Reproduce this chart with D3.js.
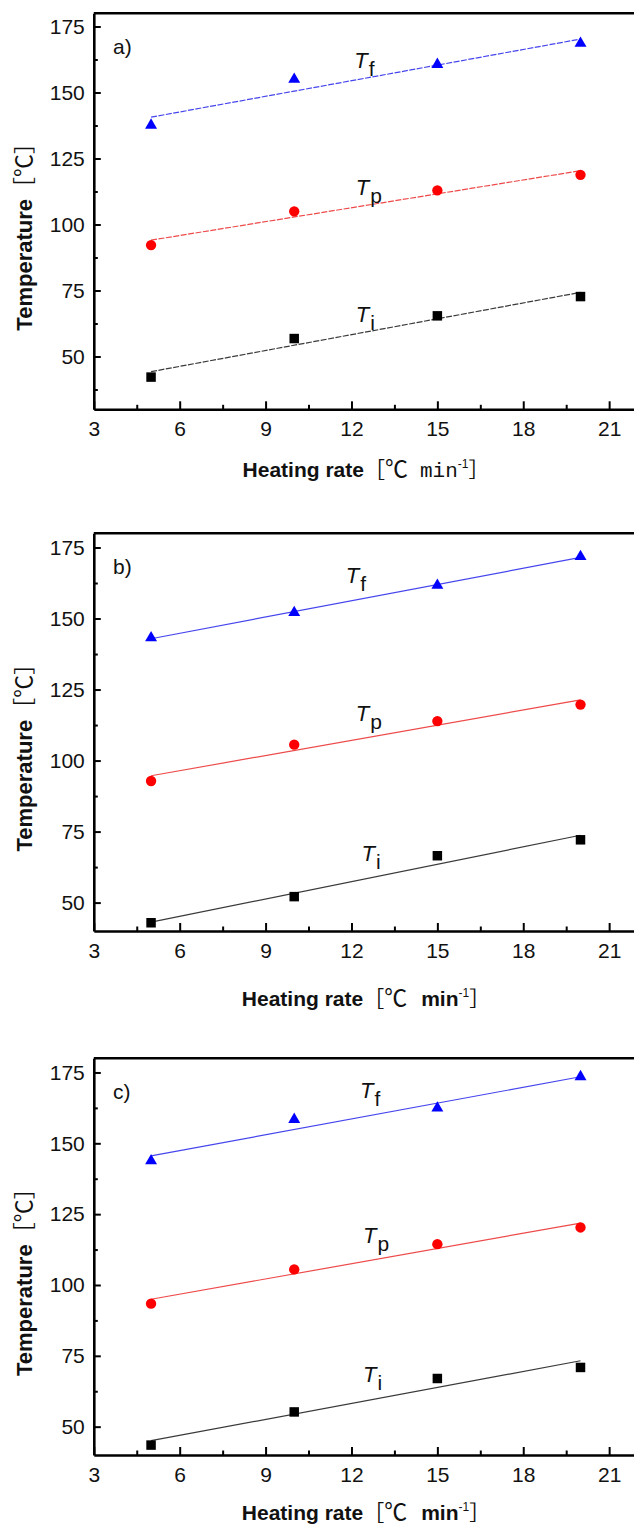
<!DOCTYPE html>
<html>
<head>
<meta charset="utf-8">
<script src="https://cdn.jsdelivr.net/npm/d3@7"></script>
<style>
  body { margin: 0; background: #fff; }
  svg { display: block; }
</style>
</head>
<body>
<div id="container"></div>
<script>
// values
const xValues = [5, 10, 15, 20];
const xTicks = [3, 6, 9, 12, 15, 18, 21];
const yTicks = [50, 75, 100, 125, 150, 175];
const panelLabels = ["a)", "b)", "c)"];
const yMins = [30, 40, 40];
const subNames = ["f", "p", "i"];

const tfA = [137.6, 155.0, 160.6, 168.6];
const tpA = [92.2, 105.0, 112.9, 118.8];
const tiA = [42.2, 56.8, 65.4, 72.7];

const tfB = [143.2, 152.1, 161.7, 171.8];
const tpB = [92.8, 105.6, 113.9, 119.7];
const tiB = [42.9, 52.1, 66.5, 72.1];

const tfC = [143.8, 158.4, 162.4, 173.5];
const tpC = [93.4, 105.5, 114.4, 120.3];
const tiC = [43.5, 55.2, 67.0, 70.9];

// where the T labels start (x in heating-rate units)
const labelXA = [12.1, 12.15, 12.15];
const labelXB = [11.8, 12.15, 12.35];
const labelXC = [12.3, 12.4, 12.4];

const panels = [
  { label: panelLabels[0], yMin: yMins[0], series: [tfA, tpA, tiA], labelX: labelXA },
  { label: panelLabels[1], yMin: yMins[1], series: [tfB, tpB, tiB], labelX: labelXB },
  { label: panelLabels[2], yMin: yMins[2], series: [tfC, tpC, tiC], labelX: labelXC }
];

// layout
const width = 634, height = 1528;
const left = 93.8;
const tops = [13.3, 533.3, 1058.3];
const bottoms = [409.3, 931, 1455];
const xTitleY = [477, 1006, 1520];
const labelDy = [-12, -19, -19];

const markColors = ["#0000ff", "#ff0000", "#000000"];
const fitColors = ["#4646ee", "#ee4a4a", "#3a3a3a"];
const symbols = [d3.symbolTriangle, d3.symbolCircle, d3.symbolSquare];
const symbolSizes = [62, 84, 90];

const tickFont = "Liberation Sans, Arial, sans-serif";
const cjkFont = "Noto Sans CJK SC, sans-serif";

const svg = d3.select("#container")
  .append("svg")
  .attr("width", width)
  .attr("height", height);

const x = d3.scaleLinear()
  .domain([3, 22.5])
  .range([left, left + 19.5 * 28.63]);

const fit = (ys) => {
  const mx = d3.mean(xValues), my = d3.mean(ys);
  const sxy = d3.sum(xValues, (d, i) => (d - mx) * (ys[i] - my));
  const sxx = d3.sum(xValues, (d) => (d - mx) * (d - mx));
  const b = sxy / sxx;
  return (v) => my + b * (v - mx);
};

panels.forEach((p, k) => {
  const top = tops[k], bottom = bottoms[k];
  const y = d3.scaleLinear().domain([p.yMin, 180]).range([bottom, top]);
  const g = svg.append("g");

  // top frame line
  g.append("line")
    .attr("x1", left).attr("x2", width)
    .attr("y1", top).attr("y2", top)
    .attr("stroke", "#000").attr("stroke-width", 2.6);

  // minor ticks
  const minorY = d3.range(p.yMin, 180, 12.5).map((d) => Math.ceil(d / 12.5) * 12.5)
    .filter((d) => d % 25 !== 0 && d > p.yMin && d < 180);
  g.append("g")
    .attr("transform", `translate(${left},0)`)
    .call(d3.axisLeft(y).tickValues(minorY).tickSize(-4).tickFormat(""))
    .call((s) => s.select(".domain").remove())
    .call((s) => s.selectAll("line").attr("stroke-width", 2));

  g.append("g")
    .attr("transform", `translate(0,${bottom})`)
    .call(d3.axisBottom(x).tickValues(d3.range(4.5, 22, 3)).tickSize(-4.5).tickFormat(""))
    .call((s) => s.select(".domain").remove())
    .call((s) => s.selectAll("line").attr("stroke-width", 2));

  // major axes
  const yAxis = g.append("g")
    .attr("transform", `translate(${left},0)`)
    .call(d3.axisLeft(y).tickValues(yTicks).tickSize(-7).tickSizeOuter(0).tickPadding(9));
  const xAxis = g.append("g")
    .attr("transform", `translate(0,${bottom})`)
    .call(d3.axisBottom(x).tickValues(xTicks).tickSize(-8).tickSizeOuter(0).tickPadding(12));

  [yAxis, xAxis].forEach((a) => {
    a.select(".domain").attr("stroke-width", 2.6);
    a.selectAll(".tick line").attr("stroke-width", 2);
    a.selectAll("text")
      .attr("font-family", tickFont)
      .attr("font-size", 21)
      .attr("fill", "#111");
  });

  // fitted lines and points
  p.series.forEach((ys, j) => {
    const f = fit(ys);
    g.append("line")
      .attr("x1", x(xValues[0])).attr("y1", y(f(xValues[0])))
      .attr("x2", x(xValues[3])).attr("y2", y(f(xValues[3])))
      .attr("stroke", fitColors[j])
      .attr("stroke-width", 1.2)
      .attr("stroke-dasharray", k === 0 ? "6,1.5" : null);

    g.selectAll(null)
      .data(ys)
      .enter()
      .append("path")
      .attr("d", d3.symbol().type(symbols[j]).size(symbolSizes[j]))
      .attr("transform", (d, i) => `translate(${x(xValues[i])},${y(d)})`)
      .attr("fill", markColors[j]);

    const lx = p.labelX[j];
    const t = g.append("text")
      .attr("x", x(lx))
      .attr("y", y(f(lx)) + labelDy[k])
      .attr("font-family", tickFont)
      .attr("font-size", 22)
      .attr("fill", "#111");
    t.append("tspan").attr("font-style", "italic").text("T");
    t.append("tspan").attr("dx", 1).attr("dy", 8).attr("font-size", 21).text(subNames[j]);
  });

  // panel tag
  g.append("text")
    .attr("x", 113)
    .attr("y", top + 41)
    .attr("font-family", tickFont)
    .attr("font-size", 21)
    .attr("fill", "#111")
    .text(p.label);

  // y title
  const yt = g.append("text")
    .attr("transform", `translate(32,${(top + bottom) / 2 + 20}) rotate(-90)`)
    .attr("text-anchor", "middle")
    .attr("font-size", 22)
    .attr("fill", "#111");
  yt.append("tspan").attr("font-family", tickFont).attr("font-weight", "bold").text("Temperature");
  yt.append("tspan").attr("font-family", cjkFont).text("［");
  yt.append("tspan").attr("font-family", cjkFont).attr("font-size", 23).text("℃");
  yt.append("tspan").attr("font-family", cjkFont).text("］");

  // x title
  const xt = g.append("text")
    .attr("x", 366)
    .attr("y", xTitleY[k])
    .attr("text-anchor", "middle")
    .attr("font-size", 21)
    .attr("fill", "#111");
  xt.append("tspan").attr("font-family", tickFont).attr("font-weight", "bold").text("Heating rate");
  xt.append("tspan").attr("font-family", cjkFont).text("［");
  xt.append("tspan").attr("font-family", cjkFont).attr("font-size", 23).text("℃");
  if (k === 0) {
    xt.append("tspan").attr("font-family", "Liberation Mono, monospace").attr("dx", 12).text("min");
  } else {
    xt.append("tspan").attr("font-family", tickFont).attr("font-weight", "bold").attr("dx", 14).text("min");
  }
  xt.append("tspan").attr("font-family", tickFont).attr("font-size", 12).attr("dy", -9).text("-1");
  xt.append("tspan").attr("font-family", cjkFont).attr("dy", 9).text("］");
});
</script>
</body>
</html>
